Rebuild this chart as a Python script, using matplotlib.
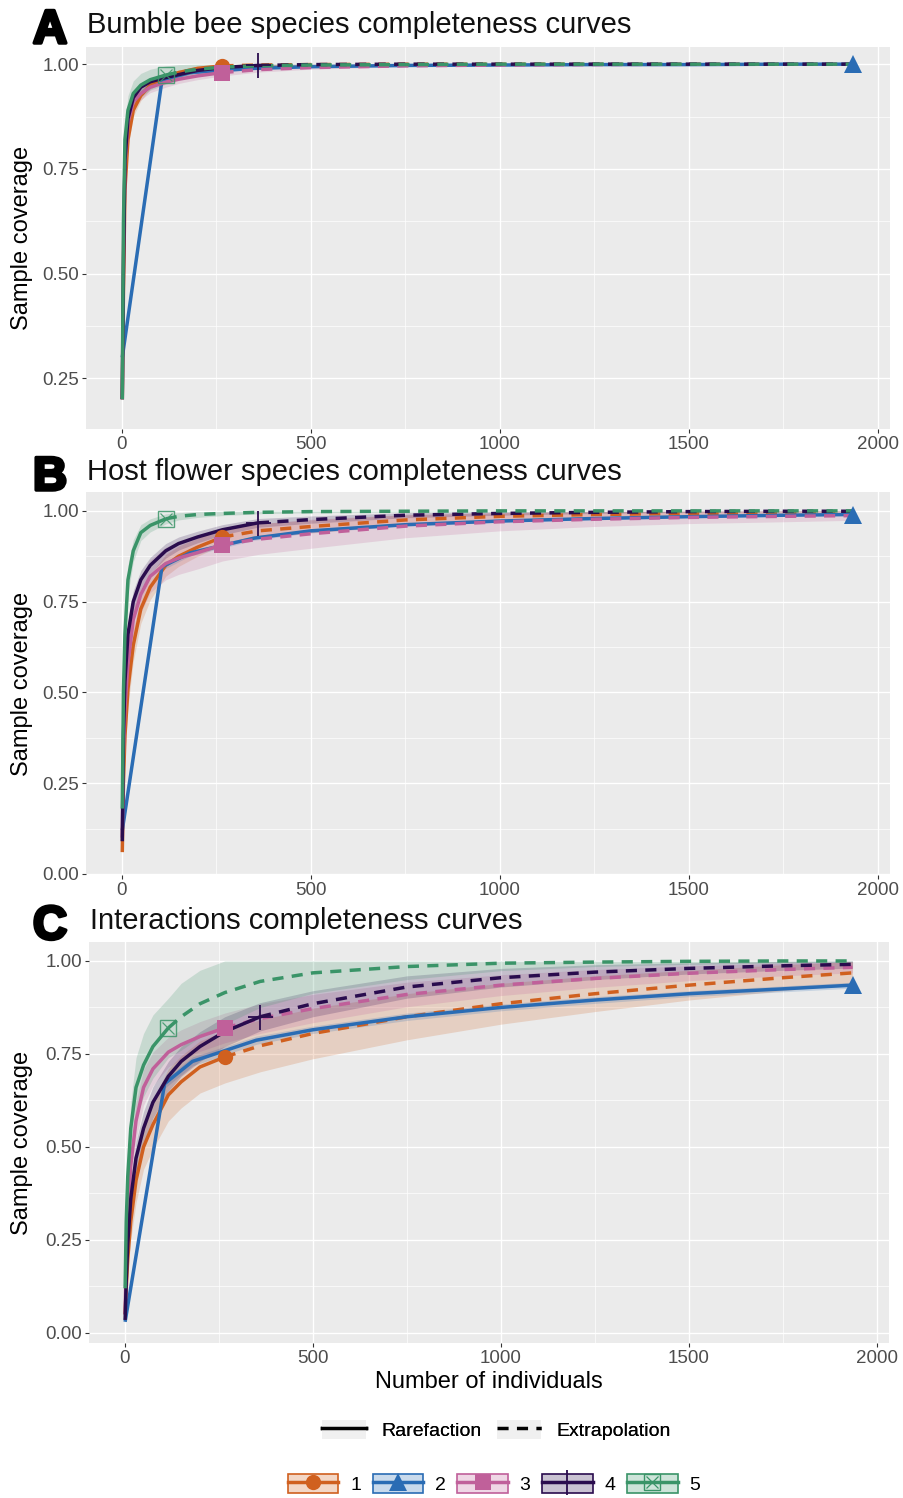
import numpy as np
import matplotlib
matplotlib.use('Agg')
import matplotlib.pyplot as plt
from matplotlib.lines import Line2D
from matplotlib.patches import Patch
from matplotlib.colors import to_rgba
from matplotlib.legend_handler import HandlerTuple
import matplotlib.patheffects as pe

plt.rcParams['font.family'] = ['Liberation Sans', 'DejaVu Sans']

# ---- data ----
groups = [1, 2, 3, 4, 5]
obs_n = {1: 266, 2: 1935, 3: 266, 4: 360, 5: 116}

# sample sizes where coverage was read (assemblages 1,3,4,5)
m_grid = [1, 4, 8, 16, 30, 50, 75, 116, 150, 200, 266, 360, 500, 750, 1000, 1250, 1500, 1750, 1935]
# assemblage 2 has coarse knots (straight first segment)
m_blue = [1, 106, 180, 350, 500, 750, 1000, 1250, 1500, 1750, 1935]

# Panel A: bumble bee species
cov_A = {
    1: [0.20, 0.45, 0.70, 0.82, 0.89, 0.925, 0.95, 0.97, 0.98, 0.99, 0.996, 0.998, 0.999, 1, 1, 1, 1, 1, 1],
    2: [0.30, 0.962, 0.98, 0.99, 0.994, 0.997, 0.998, 0.999, 0.999, 1.0, 1.0],
    3: [0.20, 0.55, 0.76, 0.86, 0.91, 0.93, 0.945, 0.957, 0.964, 0.972, 0.98, 0.987, 0.992, 0.996, 0.998, 0.999, 1, 1, 1],
    4: [0.20, 0.50, 0.77, 0.87, 0.92, 0.945, 0.958, 0.968, 0.975, 0.985, 0.992, 0.997, 0.999, 1, 1, 1, 1, 1, 1],
    5: [0.20, 0.62, 0.82, 0.89, 0.93, 0.95, 0.963, 0.974, 0.981, 0.988, 0.993, 0.996, 0.998, 0.999, 1, 1, 1, 1, 1],
}
se_A = {
    1: [0, 0.02, 0.02, 0.02, 0.015, 0.012, 0.01, 0.008, 0.006, 0.005, 0.003, 0.002, 0.001, 0, 0, 0, 0, 0, 0],
    2: [0, 0.005, 0.004, 0.003, 0.002, 0.001, 0.001, 0, 0, 0, 0],
    3: [0, 0.02, 0.02, 0.02, 0.018, 0.015, 0.013, 0.012, 0.01, 0.009, 0.008, 0.006, 0.004, 0.002, 0.001, 0, 0, 0, 0],
    4: [0, 0.02, 0.02, 0.015, 0.012, 0.01, 0.008, 0.007, 0.006, 0.005, 0.004, 0.003, 0.002, 0.001, 0, 0, 0, 0, 0],
    5: [0, 0.04, 0.04, 0.035, 0.03, 0.028, 0.025, 0.022, 0.018, 0.014, 0.01, 0.007, 0.004, 0.002, 0.001, 0, 0, 0, 0],
}

# Panel B: host flower species
cov_B = {
    1: [0.06, 0.25, 0.38, 0.51, 0.63, 0.73, 0.79, 0.85, 0.875, 0.90, 0.928, 0.945, 0.957, 0.975, 0.985, 0.99, 0.993, 0.995, 0.996],
    2: [0.12, 0.846, 0.884, 0.925, 0.945, 0.962, 0.972, 0.979, 0.984, 0.988, 0.99],
    3: [0.10, 0.33, 0.46, 0.58, 0.70, 0.77, 0.82, 0.855, 0.87, 0.885, 0.907, 0.922, 0.937, 0.958, 0.97, 0.977, 0.982, 0.985, 0.987],
    4: [0.09, 0.38, 0.53, 0.66, 0.75, 0.81, 0.85, 0.89, 0.91, 0.928, 0.948, 0.967, 0.976, 0.988, 0.993, 0.996, 0.998, 0.999, 0.999],
    5: [0.18, 0.50, 0.66, 0.81, 0.89, 0.94, 0.96, 0.978, 0.985, 0.99, 0.993, 0.996, 0.998, 0.999, 1, 1, 1, 1, 1],
}
se_B = {
    1: [0.01, 0.04, 0.05, 0.05, 0.045, 0.04, 0.035, 0.03, 0.028, 0.025, 0.022, 0.02, 0.018, 0.014, 0.01, 0.008, 0.006, 0.005, 0.004],
    2: [0.01, 0.01, 0.008, 0.006, 0.005, 0.004, 0.003, 0.003, 0.002, 0.002, 0.002],
    3: [0.01, 0.05, 0.06, 0.06, 0.055, 0.05, 0.045, 0.045, 0.045, 0.045, 0.045, 0.042, 0.04, 0.032, 0.025, 0.02, 0.017, 0.015, 0.013],
    4: [0.01, 0.04, 0.04, 0.035, 0.03, 0.026, 0.022, 0.02, 0.018, 0.016, 0.014, 0.012, 0.01, 0.007, 0.005, 0.003, 0.002, 0.001, 0.001],
    5: [0.01, 0.05, 0.05, 0.04, 0.03, 0.022, 0.018, 0.014, 0.01, 0.008, 0.006, 0.004, 0.003, 0.002, 0.001, 0, 0, 0, 0],
}

# Panel C: interactions
cov_C = {
    1: [0.05, 0.12, 0.20, 0.30, 0.41, 0.50, 0.56, 0.64, 0.675, 0.715, 0.742, 0.772, 0.805, 0.85, 0.885, 0.912, 0.935, 0.955, 0.968],
    2: [0.03, 0.67, 0.73, 0.787, 0.815, 0.85, 0.875, 0.895, 0.912, 0.925, 0.935],
    3: [0.05, 0.20, 0.32, 0.45, 0.57, 0.66, 0.71, 0.755, 0.775, 0.797, 0.82, 0.845, 0.872, 0.91, 0.935, 0.953, 0.967, 0.977, 0.983],
    4: [0.035, 0.14, 0.24, 0.36, 0.47, 0.55, 0.62, 0.69, 0.73, 0.77, 0.81, 0.85, 0.885, 0.93, 0.955, 0.97, 0.98, 0.987, 0.991],
    5: [0.12, 0.30, 0.42, 0.55, 0.66, 0.72, 0.77, 0.82, 0.85, 0.885, 0.915, 0.945, 0.968, 0.985, 0.994, 0.997, 0.999, 1.0, 1.0],
}
se_C = {
    1: [0.01, 0.03, 0.04, 0.05, 0.06, 0.06, 0.065, 0.07, 0.07, 0.07, 0.07, 0.07, 0.068, 0.062, 0.055, 0.048, 0.04, 0.035, 0.03],
    2: [0.005, 0.012, 0.012, 0.011, 0.01, 0.01, 0.009, 0.009, 0.008, 0.008, 0.008],
    3: [0.01, 0.04, 0.05, 0.05, 0.05, 0.048, 0.045, 0.04, 0.04, 0.04, 0.04, 0.04, 0.038, 0.033, 0.028, 0.024, 0.02, 0.017, 0.015],
    4: [0.01, 0.03, 0.04, 0.045, 0.045, 0.045, 0.042, 0.04, 0.04, 0.04, 0.04, 0.038, 0.035, 0.03, 0.025, 0.02, 0.015, 0.012, 0.01],
    5: [0.02, 0.05, 0.06, 0.07, 0.08, 0.085, 0.085, 0.08, 0.09, 0.09, 0.085, 0.07, 0.055, 0.035, 0.02, 0.012, 0.008, 0.005, 0.003],
}

titles = ['Bumble bee species completeness curves',
          'Host flower species completeness curves',
          'Interactions completeness curves']
letters = ['A', 'B', 'C']

colors = {1: '#D0601F', 2: '#2A6CB4', 3: '#C0609A', 4: '#2A0C4E', 5: '#3A9468'}
markers = {1: 'o', 2: '^', 3: 's', 4: '+', 5: 's'}

W, H = 904, 1498
fig = plt.figure(figsize=(W / 100, H / 100), dpi=100)


def px_axes(left, top, right, bottom):
    return fig.add_axes([left / W, 1 - bottom / H, (right - left) / W, (bottom - top) / H])


def draw_marker(ax, g, x, y):
    c = colors[g]
    if g == 4:
        ax.plot([x], [y], marker='+', ms=18, mew=1.3, color=c, zorder=6)
    elif g == 5:
        ax.plot([x], [y], marker='s', ms=11, mfc='none', mec=c, mew=1.0, zorder=6, alpha=0.85)
        ax.plot([x], [y], marker='x', ms=8, mec=c, mew=0.9, zorder=6, alpha=0.85)
    else:
        ms = 13 if g == 2 else 11
        ax.plot([x], [y], marker=markers[g], ms=ms, color=c, mew=0, zorder=6)


def draw_panel(ax, cov, se, ylim, yticks, yminor):
    ax.set_facecolor('#EBEBEB')
    for s in ax.spines.values():
        s.set_visible(False)
    for g in groups:
        m = np.array(m_blue if g == 2 else m_grid, float)
        c = np.array(cov[g])
        s = np.array(se[g])
        ax.fill_between(m, np.clip(c - s, 0, 1), np.clip(c + s, 0, 1),
                        color=colors[g], alpha=0.2, lw=0, zorder=2)
    for g in groups:
        m = np.array(m_blue if g == 2 else m_grid, float)
        c = np.array(cov[g])
        n = obs_n[g]
        rare = m <= n
        ext = m >= n
        ax.plot(m[rare], c[rare], color=colors[g], lw=2.5, zorder=4,
                solid_capstyle='butt', solid_joinstyle='round')
        if ext.sum() > 1:
            ax.plot(m[ext], c[ext], color=colors[g], lw=2.5, dashes=(3.2, 2.4), zorder=4)
        draw_marker(ax, g, n, c[m == n][0])
    ax.set_xlim(-95, 2032)
    ax.set_ylim(*ylim)
    ax.set_xticks([0, 500, 1000, 1500, 2000])
    ax.set_xticks([250, 750, 1250, 1750], minor=True)
    ax.set_yticks(yticks)
    ax.set_yticklabels(['%.2f' % v for v in yticks])
    ax.set_yticks(yminor, minor=True)
    ax.grid(which='major', color='white', lw=1.0)
    ax.grid(which='minor', color='white', lw=0.5)
    ax.set_axisbelow(True)
    ax.tick_params(which='major', length=3, width=0.8, color='#333333',
                   labelsize=13.5, labelcolor='#4D4D4D', pad=2)
    ax.tick_params(which='minor', length=0)


panels = [
    (px_axes(86, 47, 890, 429), cov_A, se_A, (0.129, 1.041), [0.25, 0.50, 0.75, 1.00], [0.375, 0.625, 0.875], 86, 0),
    (px_axes(86, 492, 890, 875), cov_B, se_B, (-0.003, 1.052), [0.00, 0.25, 0.50, 0.75, 1.00], [0.125, 0.375, 0.625, 0.875], 86, 447),
    (px_axes(89, 942, 889, 1343), cov_C, se_C, (-0.027, 1.051), [0.00, 0.25, 0.50, 0.75, 1.00], [0.125, 0.375, 0.625, 0.875], 89, 896),
]

for i, (ax, cov, se, ylim, yt, ym, left, dy) in enumerate(panels):
    draw_panel(ax, cov, se, ylim, yt, ym)
    ax.set_ylabel('Sample coverage', fontsize=17, color='black')
    ax.yaxis.set_label_coords((33 - left) / (ax.get_position().width * W), 0.5)
    fig.text(33 / W, 1 - (43 + dy) / H, letters[i], fontsize=34, fontweight='bold',
             va='baseline', ha='left',
             path_effects=[pe.withStroke(linewidth=2.5, foreground='black')])
    fig.text((87 + (3 if i == 2 else 0)) / W, 1 - (33 + dy) / H, titles[i],
             fontsize=21, va='baseline', ha='left', color='#111111')

fig.text(489 / W, 1 - 1382 / H, 'Number of individuals', fontsize=17,
         ha='center', va='center')

tuple_handler = {tuple: HandlerTuple(ndivide=1, pad=0)}

# linetype legend
bg = Patch(facecolor='#F0F0F0', edgecolor='none')
h_lt = [(bg, Line2D([], [], color='black', lw=2.5)),
        (bg, Line2D([], [], color='black', lw=2.5, dashes=(3.2, 2.4)))]
leg1 = fig.legend(h_lt, ['Rarefaction', 'Extrapolation'], loc='center',
                  bbox_to_anchor=(496 / W, 1 - 1430 / H), ncol=2, frameon=False,
                  fontsize=14, handlelength=2.3, handleheight=1.15, handletextpad=0.75,
                  columnspacing=0.8, handler_map=tuple_handler)
fig.add_artist(leg1)

# assemblage legend
h_g = []
for g in groups:
    c = colors[g]
    box = Patch(facecolor=to_rgba(c, 0.25), edgecolor=c, lw=1.2)
    if g == 4:
        ln = Line2D([], [], color=c, lw=2.5, marker='+', ms=18, mew=1.3)
        h_g.append((box, ln))
    elif g == 5:
        ln = Line2D([], [], color=c, lw=2.5, marker='s', ms=11, mfc='none', mec=c, mew=1.0)
        x = Line2D([], [], color=c, lw=0, marker='x', ms=8, mew=0.9)
        h_g.append((box, ln, x))
    else:
        ln = Line2D([], [], color=c, lw=2.5, marker=markers[g], ms=13 if g == 2 else 11, mew=0)
        h_g.append((box, ln))
fig.legend(h_g, [str(g) for g in groups], loc='center',
           bbox_to_anchor=(494 / W, 1 - 1484 / H), ncol=5, frameon=False, numpoints=1,
           fontsize=14, handlelength=2.6, handleheight=1.15, handletextpad=0.6,
           columnspacing=0.6, handler_map=tuple_handler)

fig.savefig('out.png', dpi=100)
